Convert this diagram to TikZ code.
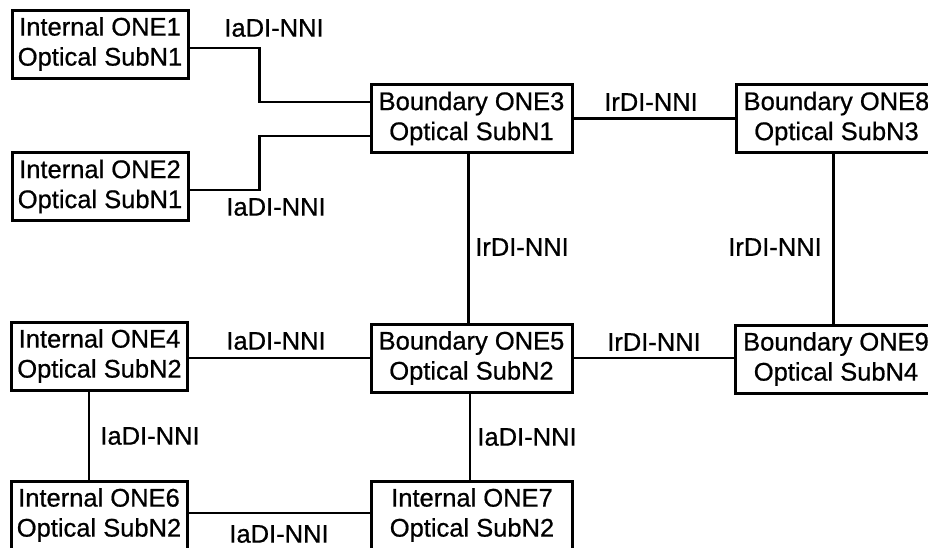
\documentclass[tikz,border=0pt]{standalone}
\usepackage{fontspec}
\setmainfont{Liberation Sans}
\newfontfamily\scanfont{Liberation Sans}[BoldFont=Liberation Sans, BoldFeatures={FakeBold=0.7}]
\begin{document}
\begin{tikzpicture}[x=1pt,y=-1pt,
  every node/.style={font=\scanfont\bfseries\fontsize{25.5}{30}\selectfont},
  onebox/.style={draw, line width=3pt, minimum height=68pt, inner sep=0pt, align=center},
  intbox/.style={onebox, minimum width=176pt},
  bndbox/.style={onebox, minimum width=201pt},
  link/.style={line width=2.7pt},
  lbl/.style={inner sep=0pt}]
\useasboundingbox (0,0) rectangle (928,547);
\fill[white] (0,0) rectangle (928,547);
\clip (0,0) rectangle (928,547);
% boxes
\node[intbox] (one1) at (100,44) {Internal ONE1\\Optical SubN1};
\node[intbox] (one2) at (100,186.5) {Internal ONE2\\Optical SubN1};
\node[bndbox] (one3) at (471.5,118.5) {Boundary ONE3\\Optical SubN1};
\node[bndbox] (one8) at (836.5,118.5) {Boundary ONE8\\Optical SubN3};
\node[intbox] (one4) at (99.5,356) {Internal ONE4\\Optical SubN2};
\node[bndbox] (one5) at (471.5,358) {Boundary ONE5\\Optical SubN2};
\node[bndbox] (one9) at (836,359) {Boundary ONE9\\Optical SubN4};
\node[intbox] (one6) at (99,515) {Internal ONE6\\Optical SubN2};
\node[bndbox] (one7) at (472,515) {Internal ONE7\\Optical SubN2};
% connectors
\draw[link] ([yshift=-4pt]one1.east) -- ++(70,0) |- ([yshift=16.5pt]one3.west);
\draw[link] ([yshift=-3.5pt]one2.east) -- ++(70,0) |- ([yshift=-17.5pt]one3.west);
\draw[link] (one3.east) -- (one8.west);
\draw[link] ([xshift=-3pt]one3.south) -- ([xshift=-3pt]one3.south |- one5.north);
\draw[link] ([xshift=-3pt]one8.south) -- ([xshift=-3pt]one8.south |- one9.north);
\draw[link] (one4.east |- one5.west) -- (one5.west);
\draw[link] (one5.east) -- (one5.east -| one9.west);
\draw[link] ([xshift=-10.5pt]one4.south) -- ([xshift=-10.5pt]one4.south |- one6.north);
\draw[link] ([xshift=-1.5pt]one5.south) -- ([xshift=-1.5pt]one5.south |- one7.north);
\draw[link] ([yshift=2pt]one6.east) -- ([yshift=2pt]one6.east -| one7.west);
% labels
\node[lbl] (l1) at (274,28) {IaDI-NNI};
\node[lbl] (l2) at (276,207) {IaDI-NNI};
\node[lbl] (l3) at (651,102) {IrDI-NNI};
\node[lbl] (l4) at (522,247) {IrDI-NNI};
\node[lbl] (l5) at (775,247) {IrDI-NNI};
\node[lbl] (l6) at (276,341) {IaDI-NNI};
\node[lbl] (l7) at (654,342) {IrDI-NNI};
\node[lbl] (l8) at (150,436) {IaDI-NNI};
\node[lbl] (l9) at (527,437) {IaDI-NNI};
\node[lbl] (l10) at (279,534) {IaDI-NNI};
\end{tikzpicture}
\end{document}
